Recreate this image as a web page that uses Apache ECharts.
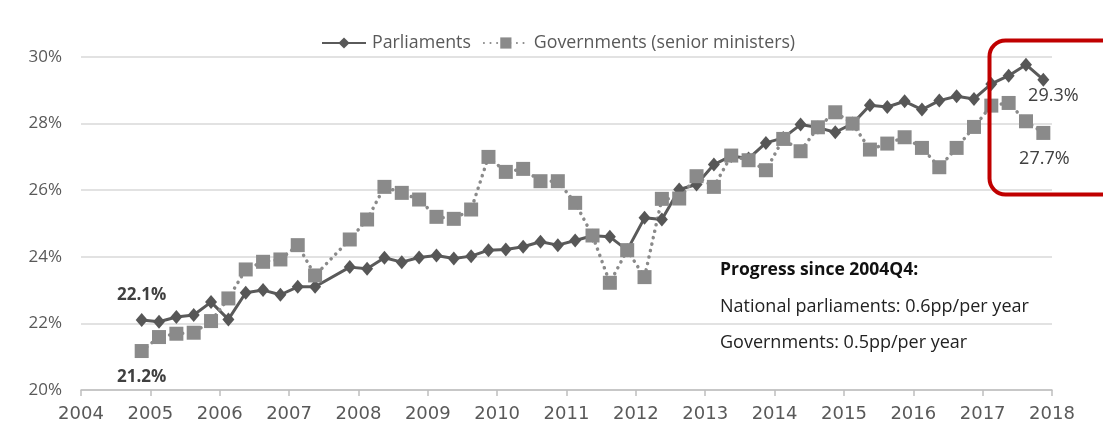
<!DOCTYPE html>
<html>
<head>
<meta charset="utf-8">
<script src="https://cdn.jsdelivr.net/npm/echarts@6/dist/echarts.min.js"></script>
<style>
html,body{margin:0;padding:0;background:#fff;}
#chart{width:1103px;height:430px;}
</style>
</head>
<body>
<div id="chart"></div>
<script>
// Quarters (2007Q3 not reported in the source)
const quarters = [
  '2004Q4',
  '2005Q1','2005Q2','2005Q3','2005Q4',
  '2006Q1','2006Q2','2006Q3','2006Q4',
  '2007Q1','2007Q2','2007Q4',
  '2008Q1','2008Q2','2008Q3','2008Q4',
  '2009Q1','2009Q2','2009Q3','2009Q4',
  '2010Q1','2010Q2','2010Q3','2010Q4',
  '2011Q1','2011Q2','2011Q3','2011Q4',
  '2012Q1','2012Q2','2012Q3','2012Q4',
  '2013Q1','2013Q2','2013Q3','2013Q4',
  '2014Q1','2014Q2','2014Q3','2014Q4',
  '2015Q1','2015Q2','2015Q3','2015Q4',
  '2016Q1','2016Q2','2016Q3','2016Q4',
  '2017Q1','2017Q2','2017Q3','2017Q4'
];
const parliaments = [
  22.10,
  22.05,22.19,22.25,22.64,
  22.12,22.92,23.00,22.86,
  23.10,23.10,23.69,
  23.64,23.97,23.84,23.98,
  24.04,23.95,24.02,24.20,
  24.22,24.30,24.45,24.35,
  24.49,24.63,24.60,24.20,
  25.17,25.12,26.02,26.17,
  26.77,27.03,26.95,27.42,
  27.57,27.97,27.88,27.74,
  28.00,28.55,28.50,28.67,
  28.42,28.69,28.82,28.74,
  29.19,29.44,29.77,29.32
];
const governments = [
  21.17,
  21.59,21.69,21.72,22.07,
  22.75,23.62,23.85,23.92,
  24.35,23.44,24.52,
  25.12,26.10,25.92,25.72,
  25.20,25.14,25.42,27.00,
  26.55,26.64,26.27,26.27,
  25.62,24.64,23.22,24.20,
  23.39,25.74,25.75,26.42,
  26.10,27.04,26.90,26.60,
  27.54,27.17,27.89,28.34,
  28.00,27.22,27.40,27.59,
  27.27,26.69,27.27,27.90,
  28.54,28.62,28.07,27.72
];
const seriesNames = ['Parliaments', 'Governments (senior ministers)'];
const noteLines = ['Progress since 2004Q4:', 'National parliaments: 0.6pp/per year', 'Governments: 0.5pp/per year'];

function qToYear(q) {
  const y = parseInt(q.slice(0,4), 10);
  const n = parseInt(q.slice(5), 10);
  return y + (n - 0.5) / 4;
}
const FONT = '"Open Sans", "Noto Sans", sans-serif';

function buildData(values, firstLabel, lastLabel) {
  return values.map((v, i) => {
    const item = { value: [qToYear(quarters[i]), v] };
    if (i === 0 && firstLabel) item.label = firstLabel;
    if (i === values.length - 1 && lastLabel) item.label = lastLabel;
    return item;
  });
}
const fmt = p => p.value[1].toFixed(1) + '%';

const chart = echarts.init(document.getElementById('chart'), null, {renderer: 'canvas'});
chart.setOption({
  backgroundColor: '#ffffff',
  animation: false,
  textStyle: { fontFamily: FONT },
  legend: {
    top: 29, left: 316,
    itemWidth: 44, itemHeight: 14, itemGap: 12,
    textStyle: { fontSize: 17.8, color: '#595959', fontFamily: FONT, padding: [0, 0, 0, 1] },
    data: seriesNames
  },
  grid: { left: 81, right: 51, top: 57, bottom: 40, containLabel: false },
  xAxis: {
    type: 'value', min: 2004, max: 2018, interval: 1,
    axisLine: { show: true, lineStyle: { color: '#bfbfbf', width: 1.5 } },
    axisTick: { show: true, length: 6, lineStyle: { color: '#bfbfbf', width: 1.5 } },
    splitLine: { show: false },
    axisLabel: { fontSize: 18, color: '#595959', margin: 15, fontFamily: '"DejaVu Sans", sans-serif', formatter: v => String(v) }
  },
  yAxis: {
    type: 'value', min: 20, max: 30, interval: 2,
    axisLine: { show: false }, axisTick: { show: false },
    splitLine: { lineStyle: { color: '#d9d9d9', width: 1.5 } },
    axisLabel: { fontSize: 17, color: '#595959', margin: 19, fontFamily: FONT, formatter: '{value}%' }
  },
  series: [
    {
      name: seriesNames[0], type: 'line',
      symbol: 'diamond', symbolSize: [12, 14],
      itemStyle: { color: '#575757' },
      lineStyle: { color: '#5a5a5a', width: 3 },
      data: buildData(parliaments,
        { show: true, position: 'top', distance: 9, formatter: fmt, fontSize: 17, fontWeight: 'bold', color: '#404040', fontFamily: FONT },
        { show: true, position: 'bottom', distance: 0, offset: [10, 0], formatter: fmt, fontSize: 18, color: '#404040', fontFamily: FONT }
      )
    },
    {
      name: seriesNames[1], type: 'line',
      symbol: 'rect', symbolSize: 14,
      itemStyle: { color: '#8a8a8a' },
      lineStyle: { color: '#8a8a8a', width: 3.5, type: [0.1, 6.5], cap: 'round' },
      data: buildData(governments,
        { show: true, position: 'bottom', distance: 11, formatter: fmt, fontSize: 17, fontWeight: 'bold', color: '#404040', fontFamily: FONT },
        { show: true, position: 'bottom', distance: 10, offset: [1, 0], formatter: fmt, fontSize: 18, color: '#404040', fontFamily: FONT }
      )
    }
  ],
  graphic: [
    { type: 'rect', left: 987, top: 38, shape: { width: 130, height: 154, r: 16 },
      style: { fill: 'none', stroke: '#c00000', lineWidth: 4 }, z: 100 },
    { type: 'text', x: 720, y: 270, style: { text: noteLines[0], font: 'bold 17.5px ' + FONT, fill: '#111', verticalAlign: 'middle' }, z: 100 },
    { type: 'text', x: 720, y: 307, style: { text: noteLines[1], font: '18px ' + FONT, fill: '#222', verticalAlign: 'middle' }, z: 100 },
    { type: 'text', x: 720, y: 343, style: { text: noteLines[2], font: '18px ' + FONT, fill: '#222', verticalAlign: 'middle' }, z: 100 }
  ]
});
</script>
</body>
</html>
